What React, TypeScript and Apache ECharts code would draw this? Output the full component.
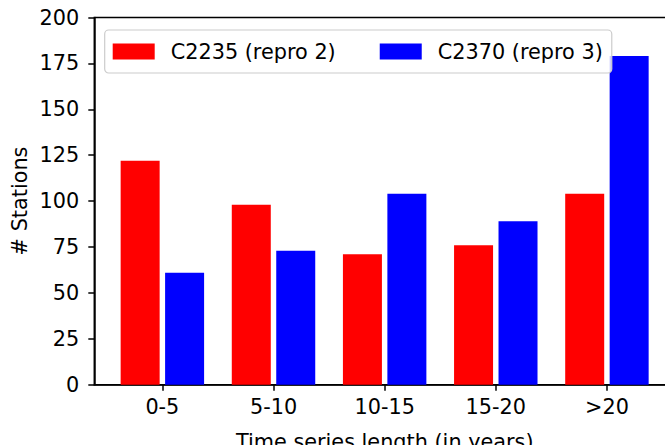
import React, { useEffect, useRef } from "react";
import * as echarts from "echarts";

const categories = ["0-5", "5-10", "10-15", "15-20", ">20"];
const seriesNames = ["C2235 (repro 2)", "C2370 (repro 3)"];
const repro2 = [122, 98, 71, 76, 104];
const repro3 = [61, 73, 104, 89, 179];
const yTicks = [0, 25, 50, 75, 100, 125, 150, 175, 200];

const FONT = "DejaVu Sans";
const FS = 20.8;
const CHART_W = 700;

export default function App() {
  const ref = useRef<HTMLDivElement>(null);
  useEffect(() => {
    document.body.style.margin = "0";
    const chart = echarts.init(ref.current!, undefined, { renderer: "svg" });
    const idx = categories.map((_, i) => i);
    chart.setOption({
      animation: false,
      backgroundColor: "#ffffff",
      textStyle: { fontFamily: FONT },
      grid: {
        left: 94.3,
        top: 17.5,
        bottom: 60.3,
        right: CHART_W - 675,
        show: true,
        borderColor: "#000000",
        borderWidth: 1.5,
        backgroundColor: "transparent",
      },
      legend: {
        data: seriesNames,
        left: 104.7,
        top: 30,
        orient: "horizontal",
        itemWidth: 42,
        itemHeight: 16,
        itemGap: 44,
        padding: [11, 9, 11, 8],
        backgroundColor: "rgba(255,255,255,0.8)",
        borderColor: "#cccccc",
        borderWidth: 1.2,
        borderRadius: 4,
        icon: "rect",
        textStyle: {
          fontFamily: FONT,
          fontSize: FS,
          color: "#000000",
          padding: [0, 0, 0, 11],
          lineHeight: 20,
        },
      },
      xAxis: {
        type: "value",
        min: -0.6125,
        max: 4.6125,
        splitLine: { show: false },
        axisLine: { show: true, onZero: false, lineStyle: { color: "#000", width: 1.5 } },
        axisTick: {
          show: true,
          customValues: idx,
          length: 6,
          lineStyle: { color: "#000", width: 1.5 },
        },
        axisLabel: {
          customValues: idx,
          formatter: (v: number) => categories[Math.round(v)] ?? "",
          fontFamily: FONT,
          fontSize: FS,
          color: "#000",
          margin: 12,
        },
      },
      yAxis: {
        type: "value",
        min: 0,
        max: 200,
        interval: 25,
        splitLine: { show: false },
        axisLine: { show: true, onZero: false, lineStyle: { color: "#000", width: 1.5 } },
        axisTick: {
          show: true,
          customValues: yTicks,
          length: 6,
          lineStyle: { color: "#000", width: 1.5 },
        },
        axisLabel: {
          customValues: yTicks,
          fontFamily: FONT,
          fontSize: FS,
          color: "#000",
          margin: 15,
        },
      },
      series: [
        {
          name: seriesNames[0],
          type: "bar",
          barWidth: 39,
          barGap: "-100%",
          itemStyle: { color: "#ff0000" },
          data: repro2.map((v, i) => [i - 0.2, v]),
        },
        {
          name: seriesNames[1],
          type: "bar",
          barWidth: 39,
          barGap: "-100%",
          itemStyle: { color: "#0000ff" },
          data: repro3.map((v, i) => [i + 0.2, v]),
        },
      ],
      graphic: [
        {
          type: "text",
          x: 20,
          y: 201,
          rotation: Math.PI / 2,
          style: {
            text: "# Stations",
            fontFamily: FONT,
            fontSize: FS,
            fill: "#000",
            align: "center",
            verticalAlign: "middle",
          },
        },
        {
          type: "text",
          x: 384.7,
          y: 441.5,
          style: {
            text: "Time series length (in years)",
            fontFamily: FONT,
            fontSize: FS,
            fill: "#000",
            align: "center",
            verticalAlign: "middle",
          },
        },
      ],
    });
    return () => chart.dispose();
  }, []);
  return (
    <div
      style={{
        width: 665,
        height: 445,
        position: "absolute",
        left: 0,
        top: 0,
        overflow: "hidden",
      }}
    >
      <div ref={ref} style={{ width: CHART_W, height: 445 }} />
    </div>
  );
}
